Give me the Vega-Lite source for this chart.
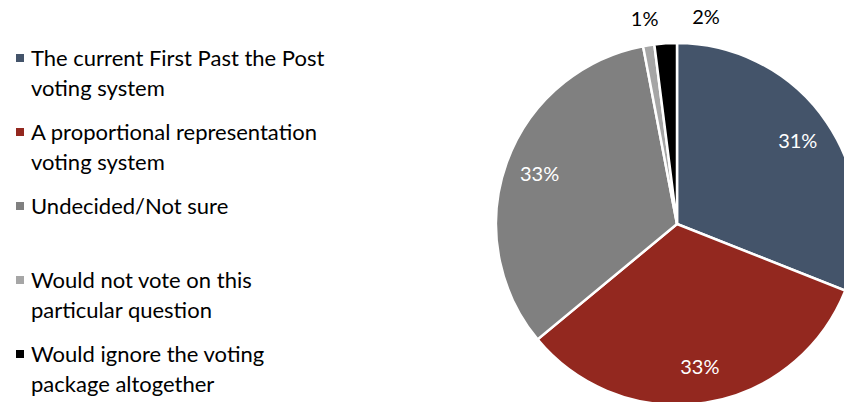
{
  "$schema": "https://vega.github.io/schema/vega-lite/v6.json",
  "width": 1354,
  "height": 448,
  "autosize": "none",
  "padding": 0,
  "background": "white",
  "config": {
    "view": {"stroke": null},
    "style": {"guide-label": {"lineHeight": 30}}
  },
  "data": {
    "values": [
      {"answer": "The current First Past the Post voting system", "share": 0.31, "idx": 1},
      {"answer": "A proportional representation voting system", "share": 0.33, "idx": 2},
      {"answer": "Undecided/Not sure", "share": 0.33, "idx": 3},
      {"answer": "Would not vote on this particular question", "share": 0.01, "idx": 4},
      {"answer": "Would ignore the voting package altogether", "share": 0.02, "idx": 5}
    ]
  },
  "encoding": {
    "theta": {"field": "share", "type": "quantitative", "stack": true},
    "order": {"field": "idx", "type": "quantitative"}
  },
  "layer": [
    {
      "mark": {"type": "arc", "outerRadius": 181, "stroke": "white", "strokeWidth": 2.5},
      "encoding": {
        "color": {
          "field": "answer",
          "type": "nominal",
          "sort": null,
          "scale": {
            "domain": [
              "The current First Past the Post voting system",
              "A proportional representation voting system",
              "Undecided/Not sure",
              "Would not vote on this particular question",
              "Would ignore the voting package altogether"
            ],
            "range": ["#44546A", "#93281F", "#808080", "#A6A6A6", "#000000"]
          },
          "legend": {
            "title": null,
            "orient": "none",
            "legendX": 9,
            "legendY": 38,
            "padding": 0,
            "symbolType": "M-1,1.25H1V3.25H-1Z",
            "symbolSize": 64,
            "symbolStrokeWidth": 0,
            "labelFont": "Lato",
            "labelFontSize": 22,
            "labelColor": "#000000",
            "labelLimit": 0,
            "labelOffset": 0,
            "rowPadding": 12,
            "labelBaseline": "top",
            "labelExpr": "{'The current First Past the Post voting system': ['The current First Past the Post', 'voting system'], 'A proportional representation voting system': ['A proportional representation', 'voting system'], 'Undecided/Not sure': ['Undecided/Not sure', ''], 'Would not vote on this particular question': ['Would not vote on this', 'particular question'], 'Would ignore the voting package altogether': ['Would ignore the voting', 'package altogether']}[datum.label]"
          }
        }
      }
    },
    {
      "mark": {"type": "text", "radius": 146, "fill": "white", "font": "Lato", "fontSize": 20},
      "encoding": {
        "text": {"condition": {"test": "datum.idx <= 3", "field": "share", "type": "quantitative", "format": ".0%"}, "value": ""}
      }
    },
    {
      "mark": {"type": "text", "radius": 207, "fill": "black", "font": "Lato", "fontSize": 20},
      "encoding": {
        "text": {"condition": {"test": "datum.idx == 4", "field": "share", "type": "quantitative", "format": ".0%"}, "value": ""}
      }
    },
    {
      "mark": {"type": "text", "radius": 206, "dx": 42, "fill": "black", "font": "Lato", "fontSize": 20},
      "encoding": {
        "text": {"condition": {"test": "datum.idx == 5", "field": "share", "type": "quantitative", "format": ".0%"}, "value": ""}
      }
    }
  ]
}
